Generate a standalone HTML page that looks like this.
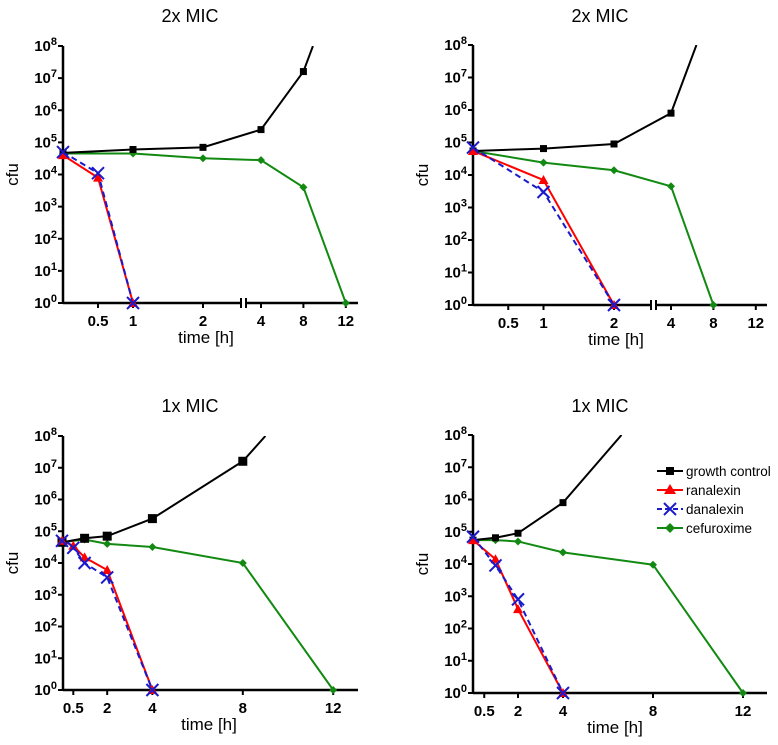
<!DOCTYPE html>
<html><head><meta charset="utf-8">
<style>
body{margin:0;background:#fff;}
svg{display:block;font-family:"Liberation Sans",Arial,sans-serif;}
.tick{font-weight:bold;font-size:15px;}
</style></head>
<body>
<svg id="c" width="778" height="745" viewBox="0 0 778 745"></svg>
<script>
// ---- data ----
const seriesNames = ["growth control","ranalexin","danalexin","cefuroxime"];
// panel A (top-left, 2x MIC)
const aBlackT=[0,1,2,4,8], aBlackV=[4.7e4,6e4,7e4,2.5e5,1.6e7], aBlackTailT=8.9, aBlackTailV=1e8;
const aRedT=[0,0.5,1], aRedV=[4e4,8e3,1];
const aBlueT=[0,0.5,1], aBlueV=[5e4,1.1e4,1];
const aGreenT=[0,1,2,4,8,12], aGreenV=[4.5e4,4.5e4,3.2e4,2.8e4,4e3,1];
// panel B (top-right, 2x MIC)
const bBlackT=[0,1,2,4], bBlackV=[5.5e4,6.5e4,9e4,8e5], bBlackTailT=6.4, bBlackTailV=1e8;
const bRedT=[0,1,2], bRedV=[5.5e4,7e3,1];
const bBlueT=[0,1,2], bBlueV=[7e4,3e3,1];
const bGreenT=[0,1,2,4,8], bGreenV=[5.5e4,2.4e4,1.4e4,4.5e3,1];
// panel C (bottom-left, 1x MIC)
const cBlackT=[0,1,2,4,8], cBlackV=[4.5e4,6e4,7e4,2.5e5,1.6e7], cBlackTailT=9, cBlackTailV=1e8;
const cRedT=[0,0.5,1,2,4], cRedV=[5e4,3.5e4,1.5e4,6e3,1];
const cBlueT=[0,0.5,1,2,4], cBlueV=[5e4,3e4,1e4,3.5e3,1];
const cGreenT=[0,1,2,4,8,12], cGreenV=[4.5e4,5.5e4,4e4,3.2e4,1e4,1];
// panel D (bottom-right, 1x MIC)
const dBlackT=[0,1,2,4], dBlackV=[5.5e4,6.5e4,9e4,8e5], dBlackTailT=6.6, dBlackTailV=1e8;
const dRedT=[0,1,2,4], dRedV=[5.5e4,1.4e4,4e2,1];
const dBlueT=[0,1,2,4], dBlueV=[7e4,9e3,8e2,1];
const dGreenT=[0,1,2,4,8,12], dGreenV=[5.5e4,5.5e4,5e4,2.3e4,9.5e3,1];
const brokenTicks=[0.5,1,2,4,8,12];
const linearTicks=[0.5,2,4,8,12];
const yDecades=[0,1,2,3,4,5,6,7,8];

const NS="http://www.w3.org/2000/svg";
const svg=document.getElementById('c');
function mk(tag,attrs,parent){const e=document.createElementNS(NS,tag);for(const k in attrs)e.setAttribute(k,attrs[k]);(parent||svg).appendChild(e);return e;}

function panel(cfg){
  const g=mk('g',{});
  
  
  const x=cfg.x;
  const y=v=>cfg.y0-Math.log10(v)*(cfg.y0-cfg.y8)/8;
  const t=mk('text',{x:cfg.titleX,y:cfg.titleY,'font-size':18,'text-anchor':'middle'},g);t.textContent=cfg.title;
  
  
  const yl=mk('text',{x:0,y:0,'font-size':17,'text-anchor':'middle',transform:`translate(${cfg.ax-45},${(cfg.y0+cfg.y8)/2}) rotate(-90)`},g);yl.textContent='cfu';
  
  
  const xl=mk('text',{x:cfg.xlabX,y:cfg.y0+40,'font-size':17,'text-anchor':'middle'},g);xl.textContent='time [h]';
  
  
  mk('line',{x1:cfg.ax,y1:cfg.y8,x2:cfg.ax,y2:cfg.y0+1,stroke:'#000','stroke-width':2.5},g);
  if(cfg.brk){
    mk('line',{x1:cfg.ax,y1:cfg.y0,x2:cfg.brk,y2:cfg.y0,stroke:'#000','stroke-width':2.5},g);
    mk('line',{x1:cfg.brk+5,y1:cfg.y0,x2:cfg.axEnd,y2:cfg.y0,stroke:'#000','stroke-width':2.5},g);
    mk('line',{x1:cfg.brk,y1:cfg.y0-5,x2:cfg.brk,y2:cfg.y0+5,stroke:'#000','stroke-width':2},g);
    mk('line',{x1:cfg.brk+5,y1:cfg.y0-5,x2:cfg.brk+5,y2:cfg.y0+5,stroke:'#000','stroke-width':2},g);
  } else mk('line',{x1:cfg.ax,y1:cfg.y0,x2:cfg.axEnd,y2:cfg.y0,stroke:'#000','stroke-width':2.5},g);
  yDecades.forEach(d=>{
    const yy=y(Math.pow(10,d));
    mk('line',{x1:cfg.ax-5,y1:yy,x2:cfg.ax,y2:yy,stroke:'#000','stroke-width':2},g);
    const tx=mk('text',{x:cfg.ax-6,y:yy+5,'text-anchor':'end',class:'tick'},g);
    
    
    tx.textContent='10';
    const s=mk('tspan',{dy:-6,'font-size':11},tx);s.textContent=d;
  });
  cfg.ticks.forEach(tv=>{
    const xx=x(tv);
    mk('line',{x1:xx,y1:cfg.y0,x2:xx,y2:cfg.y0+5,stroke:'#000','stroke-width':2},g);
    const tx=mk('text',{x:xx,y:cfg.y0+23,'text-anchor':'middle',class:'tick'},g);
    
    
    tx.textContent=tv;
  });
  const clipId='clip'+cfg.name;
  const cp=mk('clipPath',{id:clipId},g);mk('rect',{x:cfg.ax,y:cfg.y8,width:cfg.axEnd-cfg.ax,height:cfg.y0-cfg.y8+12},cp);
  const sg=mk('g',{'clip-path':`url(#${clipId})`},g);
  function line(T,V,color,dash,tail,name){
    const pts=T.map((t,i)=>[x(t),y(V[i])]);
    if(tail) pts.push([x(tail[0]),y(tail[1])]);
    const p=mk('polyline',{points:pts.map(p=>p.join(',')).join(' '),fill:'none',stroke:color,'stroke-width':2,'stroke-dasharray':dash||'none'},sg);
    
    
  }
  function markers(T,V,kind,name){
    T.forEach((t,i)=>{
      const cx=x(t),cy=y(V[i]);let m;const s=cfg.ms;
      if(kind==='sq') m=mk('rect',{x:cx-s,y:cy-s,width:2*s,height:2*s,fill:'#000'},g);
      else if(kind==='tri') m=mk('polygon',{points:`${cx},${cy-5} ${cx-5},${cy+4} ${cx+5},${cy+4}`,fill:'#f00'},g);
      else if(kind==='x') m=mk('path',{d:`M${cx-6},${cy-6}L${cx+6},${cy+6}M${cx-6},${cy+6}L${cx+6},${cy-6}`,stroke:'#1a1acc','stroke-width':2},g);
      else m=mk('polygon',{points:`${cx},${cy-4} ${cx+4},${cy} ${cx},${cy+4} ${cx-4},${cy}`,fill:'#128a12'},g);
      
      
    });
  }
  const d=cfg.data;
  line(d.gT,d.gV,'#128a12',null,null,'cefuroxime');
  line(d.kT,d.kV,'#000',null,[d.kTT,d.kTV],'growth-control');
  line(d.rT,d.rV,'#f00',null,null,'ranalexin');
  line(d.bT,d.bV,'#1a1acc','6,4',null,'danalexin');
  markers(d.gT,d.gV,'dia','cefuroxime');
  markers(d.kT,d.kV,'sq','growth-control');
  markers(d.rT,d.rV,'tri','ranalexin');
  markers(d.bT,d.bV,'x','danalexin');
}
function brokenX(x0,k1,x4,k2){return t=>t<=3?x0+t*k1:x4+(t-4)*k2;}

panel({name:'panel-2x-left',title:'2x MIC',titleX:190,titleY:22,ax:63,axEnd:358,y0:303,y8:46,brk:241,xlabX:206,ms:3.5,
 x:brokenX(63,70,261,10.6),ticks:brokenTicks,
 data:{kT:aBlackT,kV:aBlackV,kTT:aBlackTailT,kTV:aBlackTailV,rT:aRedT,rV:aRedV,bT:aBlueT,bV:aBlueV,gT:aGreenT,gV:aGreenV}});
panel({name:'panel-2x-right',title:'2x MIC',titleX:600,titleY:22,ax:473,axEnd:767,y0:305,y8:45,brk:651,xlabX:616,ms:3.5,
 x:brokenX(473,70.5,671,10.6),ticks:brokenTicks,
 data:{kT:bBlackT,kV:bBlackV,kTT:bBlackTailT,kTV:bBlackTailV,rT:bRedT,rV:bRedV,bT:bBlueT,bV:bBlueV,gT:bGreenT,gV:bGreenV}});
panel({name:'panel-1x-left',title:'1x MIC',titleX:190,titleY:412,ax:63,axEnd:358,y0:690,y8:436,xlabX:209,ms:4.5,
 x:t=>62+t*22.6,ticks:linearTicks,
 data:{kT:cBlackT,kV:cBlackV,kTT:cBlackTailT,kTV:cBlackTailV,rT:cRedT,rV:cRedV,bT:cBlueT,bV:cBlueV,gT:cGreenT,gV:cGreenV}});
panel({name:'panel-1x-right',title:'1x MIC',titleX:600,titleY:412,ax:473,axEnd:767,y0:693,y8:435,xlabX:615,ms:3.5,
 x:t=>473+t*22.5,ticks:linearTicks,
 data:{kT:dBlackT,kV:dBlackV,kTT:dBlackTailT,kTV:dBlackTailV,rT:dRedT,rV:dRedV,bT:dBlueT,bV:dBlueV,gT:dGreenT,gV:dGreenV}});

const lg=mk('g',{});


const lcol=['#000','#f00','#1a1acc','#128a12'];
seriesNames.forEach((n,i)=>{
  const yy=471+i*19;
  const e=mk('g',{},lg);
  
  
  mk('line',{x1:657,y1:yy,x2:683,y2:yy,stroke:lcol[i],'stroke-width':2,'stroke-dasharray':i===2?'5,3':'none'},e);
  const cx=670;
  if(i===0) mk('rect',{x:cx-4,y:yy-4,width:8,height:8,fill:'#000'},e);
  if(i===1) mk('polygon',{points:`${cx},${yy-6} ${cx-6},${yy+4} ${cx+6},${yy+4}`,fill:'#f00'},e);
  if(i===2) mk('path',{d:`M${cx-6},${yy-6}L${cx+6},${yy+6}M${cx-6},${yy+6}L${cx+6},${yy-6}`,stroke:'#1a1acc','stroke-width':2},e);
  if(i===3) mk('polygon',{points:`${cx},${yy-5} ${cx+5},${yy} ${cx},${yy+5} ${cx-5},${yy}`,fill:'#128a12'},e);
  const t=mk('text',{x:686,y:yy+5,'font-size':13.5},e);t.textContent=n;
});
</script>
</body></html>
